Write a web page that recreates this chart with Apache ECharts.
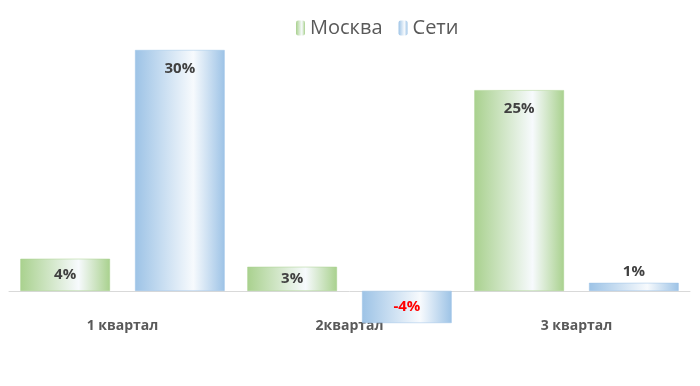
<!DOCTYPE html>
<html><head><meta charset="utf-8">
<script src="https://cdn.jsdelivr.net/npm/echarts@6/dist/echarts.min.js"></script>
<style>html,body{margin:0;padding:0;background:#fff}#c{width:700px;height:386px}</style>
</head><body><div id="c"></div>
<script>
const categories = ['1 квартал', '2квартал', '3 квартал'];
const seriesNames = ['Москва', 'Сети'];
const moscow = [4, 3, 25];
const seti = [30, -4, 1];

const font = '"Open Sans", "Liberation Sans", sans-serif';
function grad(edge) {
  return new echarts.graphic.LinearGradient(0, 0, 1, 0, [
    {offset: 0, color: edge},
    {offset: 0.65, color: '#f7fafd'},
    {offset: 1, color: edge}
  ]);
}
const green = '#a9d18e', blue = '#9dc3e6';
function labelFor(v) {
  if (v < 0) return {position: 'inside', color: '#ff0000'};
  if (v <= 1) return {position: 'top', distance: 4};
  if (v < 10) return {position: 'inside'};
  return {position: 'insideTop', distance: 11};
}
function mk(arr) {
  return arr.map(v => ({value: v, label: labelFor(v)}));
}
const chart = echarts.init(document.getElementById('c'));
chart.setOption({
  animation: false,
  legend: {
    top: 13, left: 291, itemGap: 16,
    itemWidth: 9, itemHeight: 15,
    textStyle: {fontFamily: font, fontSize: 20, color: '#595959'},
    data: [
      {name: seriesNames[0], itemStyle: {color: grad(green), borderWidth: 0}},
      {name: seriesNames[1], itemStyle: {color: grad(blue), borderWidth: 0}}
    ]
  },
  grid: {left: 9, right: 10, top: 50, bottom: 63},
  xAxis: {
    type: 'category', data: categories,
    axisLine: {onZero: true, lineStyle: {color: '#d9d9d9'}},
    axisTick: {show: false},
    axisLabel: {margin: -4, fontFamily: font, fontSize: 14, fontWeight: 'bold', color: '#595959'}
  },
  yAxis: {type: 'value', min: -4, max: 30, show: false, splitLine: {show: false}},
  series: [
    {name: seriesNames[0], type: 'bar', data: mk(moscow), barGap: '28%', barCategoryGap: '10%',
     itemStyle: {color: grad(green), borderColor: green, borderWidth: 0.5},
     label: {show: true, formatter: '{c}%', fontFamily: font, fontSize: 15, fontWeight: 'bold', color: '#404040'}},
    {name: seriesNames[1], type: 'bar', data: mk(seti), barGap: '28%', barCategoryGap: '10%',
     itemStyle: {color: grad(blue), borderColor: blue, borderWidth: 0.5},
     label: {show: true, formatter: '{c}%', fontFamily: font, fontSize: 15, fontWeight: 'bold', color: '#404040'}}
  ]
});
</script></body></html>
